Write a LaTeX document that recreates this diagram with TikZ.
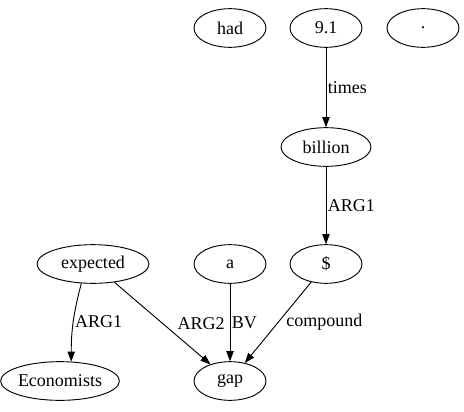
\documentclass[tikz,border=0pt]{standalone}
\usepackage{fontspec}
\setmainfont{Liberation Serif}
\usetikzlibrary{shapes.geometric,arrows.meta}

\begin{document}
\begin{tikzpicture}[x=0.75pt, y=-0.75pt, line width=0.7pt,
        word/.style={draw, ellipse, minimum width=54pt, minimum height=29pt, inner sep=0pt, font=\fontsize{13.5}{15}\selectfont},
        edge/.style={-{Triangle[length=7.5pt,width=5.5pt]}},
        lbl/.style={anchor=west, inner sep=1pt, font=\fontsize{13.5}{15}\selectfont}]
        \useasboundingbox (0, 0) rectangle (464, 411);

        \node[word] (had) at (230, 28) {had};
        \node[word] (nine) at (326, 28) {9.1};
        \node[word] (dot) at (423, 28) {.};
        \node[word, minimum width=67.5pt] (billion) at (326, 147) {billion};
        \node[word] (dollar) at (326, 264) {\$};
        \node[word, minimum width=84pt] (expected) at (93, 264) {expected};
        \node[word] (a) at (230, 264) {a};
        \node[word, minimum width=86pt] (econ) at (60, 381) {Economists};
        \node[word] (gap) at (230, 381) {gap};

        \draw[edge] (nine) -- node[lbl] {times} (billion);
        \draw[edge] (billion) -- node[lbl] {ARG1} (dollar);
        \draw[edge] (expected.239) to[out=-105, in=90] node[lbl, pos=0.5] {ARG1} (econ.60);
        \draw[edge] (expected) -- node[lbl, xshift=10pt] {ARG2} (gap);
        \draw[edge] (a) -- node[lbl] {BV} (gap);
        \draw[edge] (dollar) -- node[lbl, xshift=5pt] {compound} (gap);
    \end{tikzpicture}
\end{document}
